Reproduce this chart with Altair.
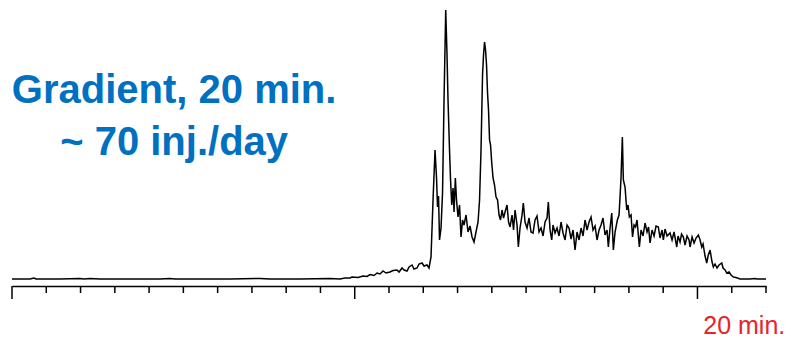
import altair as alt
import pandas as pd

# Retention time (min) and detector signal (arbitrary units)
times = [
    0, 0.525, 0.642, 0.700, 1.401, 1.984, 2.101, 2.276, 2.568, 4.319, 4.610, 4.756,
    6.361, 7.237, 7.528, 8.404, 9.279, 9.571, 9.717, 9.863, 9.921, 10.096, 10.242,
    10.359, 10.447, 10.563, 10.651, 10.738, 10.826, 10.913, 11.030, 11.118, 11.234,
    11.293, 11.380, 11.439, 11.526, 11.585, 11.672, 11.730, 11.818, 11.876, 11.964,
    12.022, 12.110, 12.168, 12.226, 12.285, 12.343, 12.387, 12.416, 12.445, 12.474,
    12.518, 12.562, 12.606, 12.655, 12.693, 12.722, 12.766, 12.796, 12.831, 12.869,
    12.898, 12.936, 12.970, 13.014, 13.058, 13.102, 13.146, 13.189, 13.248, 13.306,
    13.364, 13.423, 13.481, 13.539, 13.598, 13.642, 13.685, 13.729, 13.758, 13.788,
    13.817, 13.846, 13.875, 13.904, 13.934, 13.963, 13.998, 14.036, 14.079, 14.123,
    14.167, 14.211, 14.254, 14.298, 14.342, 14.386, 14.444, 14.488, 14.532, 14.590,
    14.634, 14.678, 14.736, 14.774, 14.823, 14.882, 14.920, 14.969, 15.028, 15.086,
    15.144, 15.203, 15.261, 15.319, 15.378, 15.436, 15.495, 15.553, 15.611, 15.649,
    15.699, 15.748, 15.786, 15.845, 15.903, 15.961, 16.020, 16.078, 16.137, 16.195,
    16.253, 16.312, 16.370, 16.428, 16.487, 16.545, 16.604, 16.662, 16.720, 16.779,
    16.837, 16.895, 16.954, 17.012, 17.070, 17.129, 17.187, 17.245, 17.304, 17.362,
    17.400, 17.450, 17.499, 17.546, 17.596, 17.663, 17.712, 17.741, 17.771, 17.809,
    17.838, 17.887, 17.937, 17.975, 18.013, 18.062, 18.106, 18.150, 18.194, 18.237,
    18.305, 18.354, 18.413, 18.471, 18.529, 18.573, 18.617, 18.675, 18.734, 18.792,
    18.859, 18.909, 18.967, 19.005, 19.054, 19.113, 19.200, 19.259, 19.317, 19.396,
    19.434, 19.492, 19.536, 19.589, 19.638, 19.697, 19.755, 19.784, 19.843, 19.901,
    19.959, 20.026, 20.076, 20.126, 20.163, 20.222, 20.271, 20.309, 20.368, 20.426,
    20.464, 20.513, 20.572, 20.630, 20.709, 20.747, 20.805, 20.855, 20.922, 20.980,
    21.048, 21.127, 21.243, 21.535, 21.681, 21.739, 22.0,
]
signal = [
    0, 0, 1, 0, 0, 0.5, 0, 0.5, 0, 0, 0.5, 0,
    0, 0.5, 0, 0, 0.5, 0, 1, 1, 2, 1.5, 3,
    2.5, 4.5, 3.5, 6, 5, 8, 6, 7, 8.5, 9,
    7, 11, 9, 8, 12, 14, 10, 11, 15, 16,
    13, 14, 11, 22, 79, 129, 101, 72, 83, 39,
    51, 86, 179, 269, 224, 179, 129, 99, 74, 91,
    67, 101, 79, 62, 74, 42, 59, 54, 64, 47,
    53, 42, 37, 47, 57, 79, 129, 204, 224, 237,
    229, 214, 186, 169, 139, 134, 116, 101, 94, 82,
    79, 64, 59, 69, 61, 67, 74, 57, 52, 64,
    49, 69, 54, 32, 51, 64, 76, 57, 51, 61,
    47, 46, 59, 63, 47, 51, 43, 57, 61, 77,
    49, 39, 54, 46, 51, 43, 57, 46, 39, 54,
    51, 40, 49, 29, 47, 39, 51, 43, 59, 49,
    57, 62, 49, 53, 39, 49, 54, 61, 44, 49,
    32, 51, 66, 29, 47, 59, 64, 82, 102, 142,
    99, 92, 69, 74, 62, 64, 42, 54, 52, 59,
    32, 49, 43, 56, 47, 52, 36, 49, 43, 53,
    52, 41, 49, 39, 50, 43, 46, 39, 47, 32,
    43, 37, 45, 42, 34, 43, 39, 32, 42, 36,
    41, 44, 39, 32, 35, 23, 16, 23, 29, 17,
    12, 15, 11, 14, 16, 11, 9, 6, 7, 4,
    2, 1.5, 0, 0, 0.5, 0, 0,
]

# Axis ticks: one per minute, longer at every 10 min
tick_values = list(range(0, 23))

notes_text = ["Gradient, 20 min.", "~ 70 inj./day"]
notes_time = [4.73, 4.73]
notes_signal = [176, 124]

end_label = ["20 min."]
end_time = [20.17]
end_signal = [-55]

trace = pd.DataFrame({"t": times, "s": signal})
ticks = pd.DataFrame({"t": tick_values})
notes = pd.DataFrame({"t": notes_time, "s": notes_signal, "label": notes_text})
end = pd.DataFrame({"t": end_time, "s": end_signal, "label": end_label})

xscale = alt.Scale(domain=[0, 22], nice=False, zero=False)
yscale = alt.Scale(domain=[-7, 271], nice=False, zero=False)

xaxis = alt.Axis(
    labels=False,
    ticks=False,
    title=None,
    grid=False,
    domainColor="black",
    domainWidth=1.5,
)

line = alt.Chart(trace).mark_line(color="black", strokeWidth=1.5).encode(
    x=alt.X("t:Q", scale=xscale, axis=xaxis),
    y=alt.Y("s:Q", scale=yscale, axis=None),
)

tick_marks = alt.Chart(ticks).transform_calculate(
    top="-7",
    bottom="datum.t % 10 === 0 ? -20 : -14",
).mark_rule(color="black", strokeWidth=1.5, clip=False).encode(
    x=alt.X("t:Q", scale=xscale),
    y=alt.Y("top:Q", scale=yscale),
    y2="bottom:Q",
)

blue = alt.Chart(notes).mark_text(
    font="Liberation Sans", fontSize=40, fontWeight="bold", color="#0070C0",
    align="center", baseline="alphabetic",
).encode(
    x=alt.X("t:Q", scale=xscale),
    y=alt.Y("s:Q", scale=yscale),
    text="label:N",
)

red = alt.Chart(end).mark_text(
    font="Liberation Sans", fontSize=25, color="#E8232A",
    align="left", baseline="alphabetic",
).encode(
    x=alt.X("t:Q", scale=xscale),
    y=alt.Y("s:Q", scale=yscale),
    text="label:N",
)

chart = alt.layer(line, tick_marks, blue, red).properties(
    width=754,
    height=278,
    autosize=alt.AutoSizeParams(type="none"),
    padding={"left": 4, "top": 0, "right": 21, "bottom": 54},
).configure_view(stroke=None)

chart.save("out.html", embed_options={"renderer": "svg", "actions": False})
